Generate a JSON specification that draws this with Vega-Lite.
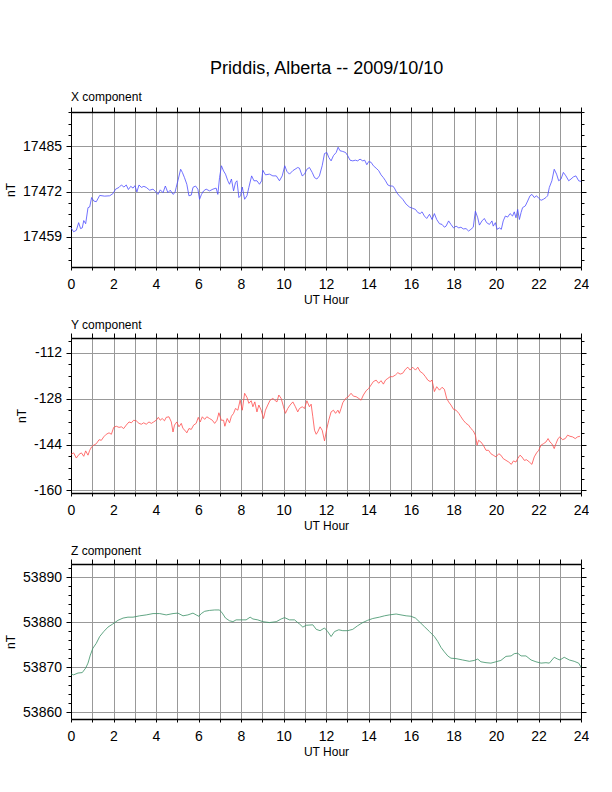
{
  "$schema": "https://vega.github.io/schema/vega-lite/v6.json",
  "padding": {"left": 4, "top": 60, "right": 0, "bottom": 0},
  "title": {"text": "Priddis, Alberta -- 2009/10/10", "fontSize": 18, "fontWeight": "normal", "anchor": "middle", "dx": 30, "offset": 13, "color": "#000"},
  "spacing": 13,
  "datasets": {
    "xcomp": [
      {"hour":0,"nT":17461.6},{"hour":0.125,"nT":17460.5},{"hour":0.25,"nT":17460.9},{"hour":0.36,"nT":17463.1},{"hour":0.45,"nT":17461.4},{"hour":0.53,"nT":17461.6},{"hour":0.6,"nT":17463.7},{"hour":0.69,"nT":17462.8},{"hour":0.8,"nT":17467.4},{"hour":0.88,"nT":17467.6},{"hour":0.97,"nT":17470.3},{"hour":1.07,"nT":17469.3},{"hour":1.19,"nT":17469.1},{"hour":1.35,"nT":17470.9},{"hour":1.58,"nT":17470.7},{"hour":1.82,"nT":17470.8},{"hour":1.97,"nT":17471.4},{"hour":2.1,"nT":17472.7},{"hour":2.26,"nT":17473.2},{"hour":2.37,"nT":17473.9},{"hour":2.49,"nT":17473.3},{"hour":2.6,"nT":17473.9},{"hour":2.7,"nT":17472.6},{"hour":2.81,"nT":17473.5},{"hour":2.92,"nT":17473.0},{"hour":3.01,"nT":17473.7},{"hour":3.1,"nT":17471.9},{"hour":3.2,"nT":17473.9},{"hour":3.31,"nT":17473.2},{"hour":3.43,"nT":17473.5},{"hour":3.54,"nT":17473.2},{"hour":3.7,"nT":17472.4},{"hour":3.86,"nT":17472.7},{"hour":3.98,"nT":17472.0},{"hour":4.09,"nT":17471.2},{"hour":4.2,"nT":17472.5},{"hour":4.33,"nT":17471.7},{"hour":4.44,"nT":17473.6},{"hour":4.56,"nT":17471.7},{"hour":4.67,"nT":17472.4},{"hour":4.8,"nT":17471.2},{"hour":4.89,"nT":17471.7},{"hour":4.95,"nT":17473.2},{"hour":5.03,"nT":17475.1},{"hour":5.16,"nT":17478.4},{"hour":5.24,"nT":17477.5},{"hour":5.34,"nT":17476.0},{"hour":5.45,"nT":17474.1},{"hour":5.55,"nT":17470.8},{"hour":5.66,"nT":17471.0},{"hour":5.74,"nT":17473.2},{"hour":5.86,"nT":17473.6},{"hour":5.97,"nT":17472.7},{"hour":6.05,"nT":17469.8},{"hour":6.14,"nT":17471.2},{"hour":6.24,"nT":17472.2},{"hour":6.36,"nT":17472.7},{"hour":6.52,"nT":17472.2},{"hour":6.68,"nT":17472.7},{"hour":6.83,"nT":17473.0},{"hour":6.91,"nT":17471.2},{"hour":6.99,"nT":17476.0},{"hour":7.08,"nT":17479.4},{"hour":7.18,"nT":17477.9},{"hour":7.27,"nT":17477.0},{"hour":7.38,"nT":17475.1},{"hour":7.46,"nT":17474.1},{"hour":7.55,"nT":17475.6},{"hour":7.65,"nT":17472.2},{"hour":7.74,"nT":17474.6},{"hour":7.81,"nT":17475.1},{"hour":7.9,"nT":17470.3},{"hour":7.98,"nT":17470.8},{"hour":8.06,"nT":17473.3},{"hour":8.17,"nT":17469.8},{"hour":8.28,"nT":17470.8},{"hour":8.37,"nT":17473.2},{"hour":8.5,"nT":17476.5},{"hour":8.61,"nT":17475.1},{"hour":8.75,"nT":17475.1},{"hour":8.87,"nT":17474.1},{"hour":8.97,"nT":17475.1},{"hour":9.03,"nT":17478.1},{"hour":9.15,"nT":17476.8},{"hour":9.34,"nT":17477.0},{"hour":9.5,"nT":17476.5},{"hour":9.66,"nT":17476.5},{"hour":9.81,"nT":17475.1},{"hour":9.94,"nT":17476.5},{"hour":10.06,"nT":17479.4},{"hour":10.16,"nT":17477.8},{"hour":10.28,"nT":17477.0},{"hour":10.44,"nT":17478.0},{"hour":10.67,"nT":17478.9},
      {"hour":10.75,"nT":17478.7},{"hour":10.88,"nT":17476.5},{"hour":10.99,"nT":17477.0},{"hour":11.1,"nT":17478.4},{"hour":11.22,"nT":17478.9},{"hour":11.35,"nT":17477.5},{"hour":11.46,"nT":17476.0},{"hour":11.57,"nT":17475.6},{"hour":11.69,"nT":17476.5},{"hour":11.82,"nT":17479.4},{"hour":11.93,"nT":17482.9},{"hour":12.04,"nT":17483.2},{"hour":12.13,"nT":17481.8},{"hour":12.24,"nT":17480.8},{"hour":12.35,"nT":17482.3},{"hour":12.48,"nT":17483.2},{"hour":12.57,"nT":17484.7},{"hour":12.66,"nT":17483.7},{"hour":12.79,"nT":17483.5},{"hour":12.92,"nT":17483.2},{"hour":13.02,"nT":17482.3},{"hour":13.13,"nT":17481.0},{"hour":13.26,"nT":17480.8},{"hour":13.38,"nT":17481.0},{"hour":13.49,"nT":17480.8},{"hour":13.6,"nT":17481.3},{"hour":13.73,"nT":17480.8},{"hour":13.82,"nT":17481.0},{"hour":13.92,"nT":17479.7},{"hour":14.01,"nT":17480.6},{"hour":14.12,"nT":17480.4},{"hour":14.23,"nT":17479.4},{"hour":14.36,"nT":17478.7},{"hour":14.48,"nT":17478.0},{"hour":14.59,"nT":17476.8},{"hour":14.7,"nT":17476.0},{"hour":14.8,"nT":17475.1},{"hour":14.91,"nT":17473.9},{"hour":15.02,"nT":17473.6},{"hour":15.14,"nT":17473.6},{"hour":15.22,"nT":17473.0},{"hour":15.33,"nT":17471.7},{"hour":15.45,"nT":17470.8},{"hour":15.61,"nT":17469.8},{"hour":15.77,"nT":17468.4},{"hour":15.92,"nT":17467.6},{"hour":16.08,"nT":17467.2},{"hour":16.21,"nT":17466.9},{"hour":16.32,"nT":17466.0},{"hour":16.43,"nT":17465.7},{"hour":16.52,"nT":17466.2},{"hour":16.63,"nT":17465.0},{"hour":16.74,"nT":17464.3},{"hour":16.87,"nT":17465.5},{"hour":16.99,"nT":17464.0},{"hour":17.1,"nT":17465.7},{"hour":17.21,"nT":17464.0},{"hour":17.34,"nT":17462.8},{"hour":17.46,"nT":17462.6},{"hour":17.57,"nT":17461.8},{"hour":17.65,"nT":17462.1},{"hour":17.77,"nT":17463.6},{"hour":17.88,"nT":17462.6},{"hour":18.0,"nT":17461.6},{"hour":18.12,"nT":17462.1},{"hour":18.25,"nT":17461.6},{"hour":18.35,"nT":17461.8},{"hour":18.46,"nT":17461.3},{"hour":18.59,"nT":17461.4},{"hour":18.71,"nT":17460.7},{"hour":18.82,"nT":17461.2},{"hour":18.93,"nT":17461.8},{"hour":19.03,"nT":17466.4},{"hour":19.14,"nT":17464.5},{"hour":19.22,"nT":17462.4},{"hour":19.34,"nT":17463.6},{"hour":19.45,"nT":17464.3},{"hour":19.56,"nT":17463.1},{"hour":19.69,"nT":17462.6},{"hour":19.81,"nT":17463.6},{"hour":19.87,"nT":17462.1},{"hour":19.97,"nT":17463.1},{"hour":20.05,"nT":17461.2},{"hour":20.16,"nT":17461.6},{"hour":20.25,"nT":17461.2},{"hour":20.34,"nT":17463.6},{"hour":20.44,"nT":17465.0},{"hour":20.55,"nT":17464.7},{"hour":20.66,"nT":17465.7},{"hour":20.78,"nT":17465.0},{"hour":20.86,"nT":17466.2},{"hour":20.94,"nT":17464.5},{"hour":21.02,"nT":17466.9},{"hour":21.1,"nT":17464.0},{"hour":21.18,"nT":17466.0},{"hour":21.25,"nT":17467.4},{"hour":21.38,"nT":17467.9},{"hour":21.49,"nT":17469.3},{"hour":21.6,"nT":17470.8},{"hour":21.69,"nT":17471.2},{"hour":21.8,"nT":17470.3},{"hour":21.91,"nT":17470.8},{"hour":22.01,"nT":17470.1},{"hour":22.12,"nT":17469.5},{"hour":22.23,"nT":17469.8},{"hour":22.35,"nT":17470.3},{"hour":22.43,"nT":17470.8},{"hour":22.51,"nT":17473.2},{"hour":22.63,"nT":17475.1},{"hour":22.74,"nT":17478.4},{"hour":22.85,"nT":17477.0},{"hour":22.95,"nT":17475.1},{"hour":23.06,"nT":17475.6},{"hour":23.17,"nT":17477.5},{"hour":23.29,"nT":17476.5},{"hour":23.42,"nT":17475.1},{"hour":23.53,"nT":17475.6},{"hour":23.64,"nT":17476.2},{"hour":23.76,"nT":17476.5},{"hour":23.89,"nT":17475.1},{"hour":24.0,"nT":17474.9}
    ],
    "ycomp": [
      {"hour":0,"nT":-147.4},{"hour":0.125,"nT":-146.9},{"hour":0.25,"nT":-148.7},{"hour":0.38,"nT":-147.4},{"hour":0.49,"nT":-146.9},{"hour":0.6,"nT":-148.1},{"hour":0.69,"nT":-146.2},{"hour":0.8,"nT":-147.7},{"hour":0.88,"nT":-146.0},{"hour":0.97,"nT":-144.8},{"hour":1.07,"nT":-144.2},{"hour":1.19,"nT":-143.7},{"hour":1.32,"nT":-142.3},{"hour":1.43,"nT":-142.5},{"hour":1.54,"nT":-141.3},{"hour":1.66,"nT":-140.4},{"hour":1.79,"nT":-139.9},{"hour":1.9,"nT":-140.4},{"hour":2.01,"nT":-138.0},{"hour":2.13,"nT":-137.6},{"hour":2.26,"nT":-138.0},{"hour":2.37,"nT":-137.8},{"hour":2.48,"nT":-138.4},{"hour":2.6,"nT":-137.2},{"hour":2.73,"nT":-136.1},{"hour":2.84,"nT":-136.4},{"hour":2.95,"nT":-135.5},{"hour":3.07,"nT":-135.7},{"hour":3.2,"nT":-136.6},{"hour":3.31,"nT":-136.9},{"hour":3.42,"nT":-136.4},{"hour":3.54,"nT":-136.9},{"hour":3.67,"nT":-136.1},{"hour":3.78,"nT":-136.6},{"hour":3.89,"nT":-136.1},{"hour":4.01,"nT":-135.5},{"hour":4.11,"nT":-134.5},{"hour":4.2,"nT":-135.5},{"hour":4.29,"nT":-134.9},{"hour":4.4,"nT":-135.7},{"hour":4.48,"nT":-134.5},{"hour":4.61,"nT":-134.3},{"hour":4.72,"nT":-136.1},{"hour":4.8,"nT":-139.6},{"hour":4.87,"nT":-137.2},{"hour":4.98,"nT":-136.1},{"hour":5.08,"nT":-137.8},{"hour":5.19,"nT":-136.6},{"hour":5.27,"nT":-138.4},{"hour":5.36,"nT":-139.0},{"hour":5.45,"nT":-139.9},{"hour":5.55,"nT":-138.4},{"hour":5.66,"nT":-138.7},{"hour":5.77,"nT":-137.2},{"hour":5.89,"nT":-136.6},{"hour":5.99,"nT":-134.5},{"hour":6.08,"nT":-136.1},{"hour":6.18,"nT":-134.3},{"hour":6.29,"nT":-135.2},{"hour":6.39,"nT":-134.3},{"hour":6.52,"nT":-134.9},{"hour":6.65,"nT":-135.5},{"hour":6.76,"nT":-136.6},{"hour":6.87,"nT":-135.5},{"hour":6.96,"nT":-132.9},{"hour":7.07,"nT":-135.5},{"hour":7.18,"nT":-135.5},{"hour":7.24,"nT":-137.6},{"hour":7.35,"nT":-134.9},{"hour":7.46,"nT":-136.4},{"hour":7.55,"nT":-134.1},{"hour":7.65,"nT":-133.1},{"hour":7.74,"nT":-131.4},{"hour":7.85,"nT":-132.0},{"hour":7.96,"nT":-128.5},{"hour":8.06,"nT":-132.0},{"hour":8.17,"nT":-126.1},{"hour":8.28,"nT":-127.5},{"hour":8.37,"nT":-129.6},{"hour":8.48,"nT":-128.7},{"hour":8.56,"nT":-130.8},{"hour":8.65,"nT":-129.1},{"hour":8.75,"nT":-132.6},{"hour":8.84,"nT":-130.2},{"hour":8.95,"nT":-132.0},{"hour":9.06,"nT":-134.9},{"hour":9.15,"nT":-132.0},{"hour":9.26,"nT":-130.2},{"hour":9.37,"nT":-128.5},{"hour":9.5,"nT":-127.9},{"hour":9.59,"nT":-128.5},{"hour":9.69,"nT":-129.1},{"hour":9.78,"nT":-126.7},{"hour":9.89,"nT":-127.9},{"hour":10.0,"nT":-130.8},{"hour":10.09,"nT":-133.1},{"hour":10.2,"nT":-131.4},{"hour":10.31,"nT":-130.2},{"hour":10.44,"nT":-129.1},{"hour":10.56,"nT":-130.8},{"hour":10.67,"nT":-132.6},
      {"hour":10.75,"nT":-131.4},{"hour":10.88,"nT":-130.8},{"hour":10.99,"nT":-131.4},{"hour":11.1,"nT":-128.7},{"hour":11.22,"nT":-130.8},{"hour":11.3,"nT":-129.9},{"hour":11.38,"nT":-134.3},{"hour":11.46,"nT":-139.0},{"hour":11.54,"nT":-140.4},{"hour":11.61,"nT":-139.6},{"hour":11.72,"nT":-137.8},{"hour":11.82,"nT":-139.0},{"hour":11.93,"nT":-142.7},{"hour":12.04,"nT":-138.4},{"hour":12.13,"nT":-135.5},{"hour":12.24,"nT":-132.6},{"hour":12.35,"nT":-132.0},{"hour":12.45,"nT":-133.1},{"hour":12.56,"nT":-132.0},{"hour":12.63,"nT":-133.1},{"hour":12.71,"nT":-131.4},{"hour":12.79,"nT":-129.4},{"hour":12.92,"nT":-127.9},{"hour":13.02,"nT":-127.5},{"hour":13.18,"nT":-126.1},{"hour":13.29,"nT":-127.1},{"hour":13.42,"nT":-127.3},{"hour":13.54,"nT":-127.9},{"hour":13.65,"nT":-128.5},{"hour":13.76,"nT":-126.7},{"hour":13.89,"nT":-125.2},{"hour":14.01,"nT":-124.4},{"hour":14.12,"nT":-123.2},{"hour":14.23,"nT":-122.0},{"hour":14.36,"nT":-121.5},{"hour":14.48,"nT":-122.6},{"hour":14.59,"nT":-121.7},{"hour":14.7,"nT":-122.9},{"hour":14.8,"nT":-121.5},{"hour":14.91,"nT":-120.9},{"hour":15.02,"nT":-120.3},{"hour":15.14,"nT":-120.3},{"hour":15.27,"nT":-119.7},{"hour":15.38,"nT":-118.9},{"hour":15.49,"nT":-119.4},{"hour":15.61,"nT":-119.1},{"hour":15.74,"nT":-117.7},{"hour":15.85,"nT":-117.0},{"hour":15.96,"nT":-118.0},{"hour":16.08,"nT":-117.0},{"hour":16.21,"nT":-118.0},{"hour":16.32,"nT":-117.0},{"hour":16.43,"nT":-118.5},{"hour":16.55,"nT":-119.1},{"hour":16.68,"nT":-120.3},{"hour":16.79,"nT":-121.5},{"hour":16.9,"nT":-122.0},{"hour":16.99,"nT":-121.5},{"hour":17.1,"nT":-125.5},{"hour":17.21,"nT":-123.8},{"hour":17.34,"nT":-125.0},{"hour":17.46,"nT":-124.0},{"hour":17.57,"nT":-124.7},{"hour":17.68,"nT":-127.9},{"hour":17.77,"nT":-129.1},{"hour":17.88,"nT":-130.2},{"hour":18.0,"nT":-131.7},{"hour":18.12,"nT":-132.0},{"hour":18.25,"nT":-133.1},{"hour":18.35,"nT":-134.3},{"hour":18.46,"nT":-135.5},{"hour":18.59,"nT":-136.6},{"hour":18.71,"nT":-137.2},{"hour":18.82,"nT":-138.4},{"hour":18.93,"nT":-139.2},{"hour":19.03,"nT":-140.7},{"hour":19.11,"nT":-144.2},{"hour":19.18,"nT":-142.5},{"hour":19.29,"nT":-143.1},{"hour":19.4,"nT":-144.2},{"hour":19.53,"nT":-146.0},{"hour":19.65,"nT":-146.0},{"hour":19.76,"nT":-147.2},{"hour":19.87,"nT":-147.7},{"hour":20.0,"nT":-148.3},{"hour":20.13,"nT":-147.2},{"hour":20.23,"nT":-147.7},{"hour":20.34,"nT":-148.9},{"hour":20.47,"nT":-149.5},{"hour":20.6,"nT":-150.1},{"hour":20.72,"nT":-150.9},{"hour":20.82,"nT":-149.7},{"hour":20.94,"nT":-150.1},{"hour":21.02,"nT":-148.9},{"hour":21.13,"nT":-147.7},{"hour":21.22,"nT":-148.3},{"hour":21.33,"nT":-149.5},{"hour":21.44,"nT":-149.3},{"hour":21.57,"nT":-150.1},{"hour":21.69,"nT":-150.9},{"hour":21.8,"nT":-148.3},{"hour":21.91,"nT":-146.9},{"hour":22.01,"nT":-146.0},{"hour":22.12,"nT":-144.2},{"hour":22.23,"nT":-143.7},{"hour":22.35,"nT":-143.1},{"hour":22.45,"nT":-141.9},{"hour":22.54,"nT":-143.1},{"hour":22.63,"nT":-143.7},{"hour":22.74,"nT":-145.4},{"hour":22.82,"nT":-143.7},{"hour":22.92,"nT":-141.9},{"hour":23.01,"nT":-141.3},{"hour":23.13,"nT":-142.3},{"hour":23.26,"nT":-141.9},{"hour":23.37,"nT":-140.7},{"hour":23.48,"nT":-141.1},{"hour":23.6,"nT":-141.3},{"hour":23.73,"nT":-141.9},{"hour":23.84,"nT":-141.3},{"hour":23.95,"nT":-141.1}
    ],
    "zcomp": [
      {"hour":0,"nT":53868.5},{"hour":0.125,"nT":53868.3},{"hour":0.33,"nT":53868.7},{"hour":0.53,"nT":53868.8},{"hour":0.69,"nT":53869.8},{"hour":0.8,"nT":53870.9},{"hour":0.91,"nT":53872.7},{"hour":1.03,"nT":53874.2},{"hour":1.19,"nT":53875.3},{"hour":1.35,"nT":53876.8},{"hour":1.54,"nT":53877.9},{"hour":1.74,"nT":53878.9},{"hour":1.97,"nT":53879.6},{"hour":2.21,"nT":53880.4},{"hour":2.45,"nT":53880.9},{"hour":2.68,"nT":53881.1},{"hour":2.92,"nT":53881.1},{"hour":3.23,"nT":53881.4},{"hour":3.54,"nT":53881.6},{"hour":3.86,"nT":53881.9},{"hour":4.17,"nT":53881.9},{"hour":4.48,"nT":53881.6},{"hour":4.8,"nT":53881.9},{"hour":5.03,"nT":53882.0},{"hour":5.27,"nT":53881.4},{"hour":5.5,"nT":53881.6},{"hour":5.74,"nT":53882.0},{"hour":5.89,"nT":53881.6},{"hour":6.02,"nT":53881.3},{"hour":6.13,"nT":53881.9},{"hour":6.29,"nT":53882.4},{"hour":6.52,"nT":53882.6},{"hour":6.76,"nT":53882.7},{"hour":6.99,"nT":53882.7},{"hour":7.12,"nT":53882.0},{"hour":7.27,"nT":53880.9},{"hour":7.46,"nT":53880.3},{"hour":7.62,"nT":53880.1},{"hour":7.77,"nT":53880.5},{"hour":8.01,"nT":53880.5},{"hour":8.24,"nT":53880.5},{"hour":8.43,"nT":53881.1},{"hour":8.56,"nT":53880.7},{"hour":8.79,"nT":53880.5},{"hour":9.03,"nT":53880.1},{"hour":9.34,"nT":53879.9},{"hour":9.66,"nT":53880.1},{"hour":9.89,"nT":53880.7},{"hour":10.05,"nT":53881.0},{"hour":10.28,"nT":53880.5},{"hour":10.52,"nT":53880.5},{"hour":10.67,"nT":53879.9},
      {"hour":10.75,"nT":53879.6},{"hour":10.91,"nT":53878.9},{"hour":11.07,"nT":53879.3},{"hour":11.38,"nT":53879.4},{"hour":11.54,"nT":53878.4},{"hour":11.72,"nT":53878.1},{"hour":11.93,"nT":53878.7},{"hour":12.08,"nT":53877.9},{"hour":12.24,"nT":53876.8},{"hour":12.4,"nT":53877.9},{"hour":12.6,"nT":53878.3},{"hour":12.79,"nT":53878.1},{"hour":13.02,"nT":53878.1},{"hour":13.26,"nT":53878.4},{"hour":13.49,"nT":53879.2},{"hour":13.73,"nT":53879.9},{"hour":13.96,"nT":53880.4},{"hour":14.2,"nT":53880.8},{"hour":14.51,"nT":53881.1},{"hour":14.75,"nT":53881.4},{"hour":14.98,"nT":53881.6},{"hour":15.3,"nT":53881.8},{"hour":15.53,"nT":53881.6},{"hour":15.77,"nT":53881.4},{"hour":16.0,"nT":53881.3},{"hour":16.21,"nT":53880.9},{"hour":16.39,"nT":53880.1},{"hour":16.63,"nT":53879.0},{"hour":16.87,"nT":53877.9},{"hour":17.1,"nT":53876.8},{"hour":17.26,"nT":53875.7},{"hour":17.41,"nT":53874.4},{"hour":17.57,"nT":53873.4},{"hour":17.73,"nT":53872.5},{"hour":17.88,"nT":53872.0},{"hour":18.12,"nT":53871.9},{"hour":18.43,"nT":53871.6},{"hour":18.75,"nT":53871.3},{"hour":18.98,"nT":53871.5},{"hour":19.14,"nT":53871.8},{"hour":19.29,"nT":53871.2},{"hour":19.53,"nT":53871.0},{"hour":19.76,"nT":53870.9},{"hour":20.0,"nT":53871.2},{"hour":20.23,"nT":53871.5},{"hour":20.47,"nT":53872.4},{"hour":20.71,"nT":53872.5},{"hour":20.86,"nT":53873.0},{"hour":21.02,"nT":53873.1},{"hour":21.18,"nT":53872.5},{"hour":21.41,"nT":53872.5},{"hour":21.65,"nT":53871.6},{"hour":21.88,"nT":53871.2},{"hour":22.12,"nT":53870.9},{"hour":22.35,"nT":53871.0},{"hour":22.51,"nT":53870.9},{"hour":22.74,"nT":53872.2},{"hour":22.9,"nT":53871.8},{"hour":23.01,"nT":53871.6},{"hour":23.21,"nT":53872.2},{"hour":23.45,"nT":53871.6},{"hour":23.68,"nT":53871.3},{"hour":23.89,"nT":53870.9},{"hour":24.0,"nT":53870.0}
    ]
  },
  "vconcat": [
    {
      "data": {"name": "xcomp"},
      "width": 510,
      "height": 155,
      "title": {"text": "X component", "anchor": "start", "frame": "group", "fontSize": 12, "fontWeight": "normal", "offset": 1, "color": "#000"},
      "layer": [
        {
          "mark": {"type": "line", "color": "#4d4dff", "strokeWidth": 0.8},
          "encoding": {
            "x": {"field": "hour", "type": "quantitative", "scale": {"domain": [0, 24], "nice": false},
              "axis": {"orient": "bottom", "title": "UT Hour", "values": [0,1,2,3,4,5,6,7,8,9,10,11,12,13,14,15,16,17,18,19,20,21,22,23,24], "labelExpr": "datum.value % 2 == 0 ? datum.label : ''", "grid": true, "tickSize": 3, "labelPadding": 7, "titlePadding": 3, "domainWidth": 1.5}},
            "y": {"field": "nT", "type": "quantitative", "scale": {"domain": [17450.4, 17494.8], "nice": false, "zero": false},
              "axis": {"orient": "left", "title": "nT", "values": [17452.5,17455.75,17459,17462.25,17465.5,17468.75,17472,17475.25,17478.5,17481.75,17485,17488.25,17491.5,17494.75],
                "labelExpr": "indexof([17459,17472,17485], datum.value) >= 0 ? toString(datum.value) : ''",
                "tickSize": {"condition": {"test": "indexof([17459,17472,17485], datum.value) >= 0", "value": 5}, "value": 3},
                "gridOpacity": {"condition": {"test": "indexof([17459,17472,17485], datum.value) >= 0", "value": 1}, "value": 0},
                "grid": true}}
          }
        },
        {
          "mark": {"type": "line", "strokeOpacity": 0},
          "encoding": {
            "x": {"field": "hour", "type": "quantitative", "scale": {"domain": [0, 24], "nice": false},
              "axis": {"orient": "top", "title": null, "labels": false, "grid": false, "values": [0,1,2,3,4,5,6,7,8,9,10,11,12,13,14,15,16,17,18,19,20,21,22,23,24], "tickSize": 5, "domainWidth": 1.5}},
            "y": {"field": "nT", "type": "quantitative", "scale": {"domain": [17450.4, 17494.8], "nice": false, "zero": false},
              "axis": {"orient": "right", "title": null, "labels": false, "grid": false, "values": [17452.5,17455.75,17459,17462.25,17465.5,17468.75,17472,17475.25,17478.5,17481.75,17485,17488.25,17491.5,17494.75],
                "tickSize": {"condition": {"test": "indexof([17459,17472,17485], datum.value) >= 0", "value": 5}, "value": 3}}}
          }
        }
      ],
      "resolve": {"axis": {"x": "independent", "y": "independent"}}
    },
    {
      "data": {"name": "ycomp"},
      "width": 510,
      "height": 155,
      "title": {"text": "Y component", "anchor": "start", "frame": "group", "fontSize": 12, "fontWeight": "normal", "offset": 1, "color": "#000"},
      "layer": [
        {
          "mark": {"type": "line", "color": "#ff4d4d", "strokeWidth": 0.8},
          "encoding": {
            "x": {"field": "hour", "type": "quantitative", "scale": {"domain": [0, 24], "nice": false},
              "axis": {"orient": "bottom", "title": "UT Hour", "values": [0,1,2,3,4,5,6,7,8,9,10,11,12,13,14,15,16,17,18,19,20,21,22,23,24], "labelExpr": "datum.value % 2 == 0 ? datum.label : ''", "grid": true, "tickSize": 3, "labelPadding": 7, "titlePadding": 3, "domainWidth": 1.5}},
            "y": {"field": "nT", "type": "quantitative", "scale": {"domain": [-160.9, -106.8], "nice": false, "zero": false},
              "axis": {"orient": "left", "title": "nT", "values": [-160,-156,-152,-148,-144,-140,-136,-132,-128,-124,-120,-116,-112,-108],
                "labelExpr": "datum.value % 16 == 0 ? toString(datum.value) : ''",
                "tickSize": {"condition": {"test": "datum.value % 16 == 0", "value": 5}, "value": 3},
                "gridOpacity": {"condition": {"test": "datum.value % 16 == 0", "value": 1}, "value": 0},
                "grid": true}}
          }
        },
        {
          "mark": {"type": "line", "strokeOpacity": 0},
          "encoding": {
            "x": {"field": "hour", "type": "quantitative", "scale": {"domain": [0, 24], "nice": false},
              "axis": {"orient": "top", "title": null, "labels": false, "grid": false, "values": [0,1,2,3,4,5,6,7,8,9,10,11,12,13,14,15,16,17,18,19,20,21,22,23,24], "tickSize": 5, "domainWidth": 1.5}},
            "y": {"field": "nT", "type": "quantitative", "scale": {"domain": [-160.9, -106.8], "nice": false, "zero": false},
              "axis": {"orient": "right", "title": null, "labels": false, "grid": false, "values": [-160,-156,-152,-148,-144,-140,-136,-132,-128,-124,-120,-116,-112,-108],
                "tickSize": {"condition": {"test": "datum.value % 16 == 0", "value": 5}, "value": 3}}}
          }
        }
      ],
      "resolve": {"axis": {"x": "independent", "y": "independent"}}
    },
    {
      "data": {"name": "zcomp"},
      "width": 510,
      "height": 155,
      "title": {"text": "Z component", "anchor": "start", "frame": "group", "fontSize": 12, "fontWeight": "normal", "offset": 1, "color": "#000"},
      "layer": [
        {
          "mark": {"type": "line", "color": "#3a8f65", "strokeWidth": 0.8},
          "encoding": {
            "x": {"field": "hour", "type": "quantitative", "scale": {"domain": [0, 24], "nice": false},
              "axis": {"orient": "bottom", "title": "UT Hour", "values": [0,1,2,3,4,5,6,7,8,9,10,11,12,13,14,15,16,17,18,19,20,21,22,23,24], "labelExpr": "datum.value % 2 == 0 ? datum.label : ''", "grid": true, "tickSize": 3, "labelPadding": 7, "titlePadding": 3, "domainWidth": 1.5}},
            "y": {"field": "nT", "type": "quantitative", "scale": {"domain": [53858.5, 53892.9], "nice": false, "zero": false},
              "axis": {"orient": "left", "title": "nT", "values": [53860,53862,53864,53866,53868,53870,53872,53874,53876,53878,53880,53882,53884,53886,53888,53890,53892],
                "labelExpr": "datum.value % 10 == 0 ? toString(datum.value) : ''",
                "tickSize": {"condition": {"test": "datum.value % 10 == 0", "value": 5}, "value": 3},
                "gridOpacity": {"condition": {"test": "datum.value % 10 == 0", "value": 1}, "value": 0},
                "grid": true}}
          }
        },
        {
          "mark": {"type": "line", "strokeOpacity": 0},
          "encoding": {
            "x": {"field": "hour", "type": "quantitative", "scale": {"domain": [0, 24], "nice": false},
              "axis": {"orient": "top", "title": null, "labels": false, "grid": false, "values": [0,1,2,3,4,5,6,7,8,9,10,11,12,13,14,15,16,17,18,19,20,21,22,23,24], "tickSize": 5, "domainWidth": 1.5}},
            "y": {"field": "nT", "type": "quantitative", "scale": {"domain": [53858.5, 53892.9], "nice": false, "zero": false},
              "axis": {"orient": "right", "title": null, "labels": false, "grid": false, "values": [53860,53862,53864,53866,53868,53870,53872,53874,53876,53878,53880,53882,53884,53886,53888,53890,53892],
                "tickSize": {"condition": {"test": "datum.value % 10 == 0", "value": 5}, "value": 3}}}
          }
        }
      ],
      "resolve": {"axis": {"x": "independent", "y": "independent"}}
    }
  ],
  "config": {
    "font": "Liberation Sans",
    "view": {"stroke": null},
    "axis": {
      "labelFont": "Liberation Sans",
      "labelFontSize": 14,
      "labelColor": "#000",
      "labelOverlap": false,
      "labelFlush": false,
      "labelPadding": 4.5,
      "tickColor": "#000",
      "tickWidth": 1,
      "domainColor": "#000",
      "domainWidth": 1,
      "gridColor": "#999",
      "gridWidth": 1,
      "titleFont": "Liberation Sans",
      "titleFontSize": 12,
      "titleFontWeight": "normal",
      "titleColor": "#000",
      "titlePadding": 5
    },
    "title": {"font": "Liberation Sans", "color": "#000"}
  }
}
